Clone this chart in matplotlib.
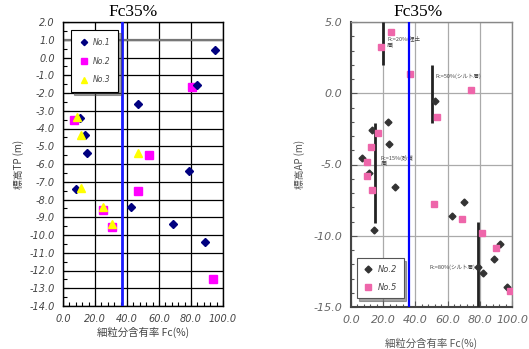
import matplotlib
matplotlib.use("Agg")
import matplotlib.pyplot as plt
from matplotlib.ticker import MultipleLocator, FormatStrFormatter

plt.rcParams['font.family'] = ['Noto Sans CJK JP', 'DejaVu Sans']

# ---------------- left chart data ----------------
left_no1_fc = [95, 84, 47, 10.4, 13.9, 14.9, 78.5, 8.1, 42.5, 68.9, 88.6]
left_no1_tp = [0.45, -1.55, -2.6, -3.43, -4.38, -5.36, -6.41, -7.41, -8.42, -9.4, -10.4]
left_no2_fc = [80.4, 6.6, 53.8, 47, 25.3, 30.7, 94]
left_no2_tp = [-1.66, -3.54, -5.5, -7.54, -8.57, -9.55, -12.48]
left_no3_fc = [8.9, 11, 47, 11.2, 24.7, 30.4]
left_no3_tp = [-3.37, -4.35, -5.36, -7.37, -8.4, -9.4]
left_series_labels = ['No.1', 'No.2', 'No.3']
left_fc_line = 37

# ---------------- right chart data ----------------
right_no2_fc = [52.2, 22.8, 12.8, 23.6, 7, 11.4, 27.3, 14.1, 70.4, 63, 92.8, 88.8, 79.1, 82.2, 96.7]
right_no2_ap = [-0.54, -2.04, -2.58, -3.56, -4.57, -5.57, -6.6, -9.6, -7.6, -8.6, -10.6, -11.6, -12.2, -12.6, -13.6]
right_no5_fc = [24.8, 18.6, 36.4, 74.3, 53.6, 17, 12.4, 9.9, 9.7, 13, 51.6, 68.7, 81.6, 89.9, 98.8]
right_no5_ap = [4.28, 3.27, 1.35, 0.23, -1.65, -2.77, -3.75, -4.82, -5.78, -6.79, -7.8, -8.83, -9.83, -10.84, -13.85]
right_series_labels = ['No.2', 'No.5']
right_fc_line = 36
seg_fc = [20, 50, 15, 79]
seg_top = [5.0, 2.0, -2.1, -9.0]
seg_bot = [2.0, -2.1, -9.1, -15.0]
seg_text = ['Fc=20%(埋土\n層)', 'Fc=50%(シルト層)', 'Fc=15%(砂質\n層)', 'Fc=80%(シルト層)']
seg_text_x = [22.5, 52.5, 18.5, 49]
seg_text_y = [3.6, 1.2, -4.7, -12.2]

title_text = 'Fc35%'
x_label = '細粒分含有率 Fc(%)'
left_ylabel = '標高TP (m)'
right_ylabel = '標高AP (m)'

W, H = 529, 349
fig = plt.figure(figsize=(W / 100, H / 100), dpi=100)

def box(l, t, r, b):
    return [l / W, 1 - b / H, (r - l) / W, (b - t) / H]

def italic_ticks(a, color):
    for lab in a.get_xticklabels() + a.get_yticklabels():
        lab.set_fontfamily('DejaVu Sans')
        lab.set_fontstyle('oblique')
        lab.set_color(color)

# ================= LEFT =================
ax = fig.add_axes(box(63, 22, 223, 306))
ax.set_xlim(0, 100)
ax.set_ylim(-14, 2)
ax.xaxis.set_major_locator(MultipleLocator(20))
ax.xaxis.set_minor_locator(MultipleLocator(4))
ax.yaxis.set_major_locator(MultipleLocator(1))
ax.yaxis.set_minor_locator(MultipleLocator(0.5))
ax.xaxis.set_major_formatter(FormatStrFormatter('%.1f'))
ax.yaxis.set_major_formatter(FormatStrFormatter('%.1f'))
ax.tick_params(which='both', direction='in', color='black', width=0.8)
ax.tick_params(which='major', length=4, labelsize=7, pad=6)
ax.tick_params(which='minor', length=3)
ax.grid(True, which='major', color='black', linewidth=0.9)
for s in ax.spines.values():
    s.set_color('black')
    s.set_linewidth(1.0)
ax.axhline(1.0, color='#777777', linewidth=1.6, zorder=2)
ax.axvline(left_fc_line, color='#1a1aff', linewidth=2.0, zorder=3)

ax.plot(left_no1_fc, left_no1_tp, linestyle='none', marker='D', markersize=4,
        color='#000080', label=left_series_labels[0], zorder=5)
ax.plot(left_no2_fc, left_no2_tp, linestyle='none', marker='s', markersize=6,
        color='#ff00ff', label=left_series_labels[1], zorder=4)
ax.plot(left_no3_fc, left_no3_tp, linestyle='none', marker='^', markersize=6,
        color='#ffff00', label=left_series_labels[2], zorder=6)
leg = ax.legend(loc='upper left', bbox_to_anchor=(0.05, 0.972), frameon=True,
                fancybox=False, shadow=True, edgecolor='black', markerscale=0.8,
                labelspacing=1.3, handlelength=1.4, handletextpad=0.5,
                borderpad=1.0, borderaxespad=0,
                prop={'family': 'DejaVu Sans', 'style': 'oblique', 'size': 5.5})
leg.get_frame().set_linewidth(0.8)
for t in leg.get_texts():
    t.set_color('#444444')
leg.set_zorder(10)
italic_ticks(ax, '#444444')
ax.set_ylabel(left_ylabel, fontsize=7, color='#444444', labelpad=4)
ax.set_xlabel(x_label, fontsize=7.5, color='#444444', labelpad=2)

fig.text(133 / W, 1 - 12 / H, title_text, ha='center', va='center',
         fontsize=12.5, family='Liberation Serif')

# ================= RIGHT =================
ax2 = fig.add_axes(box(351, 22, 512, 307))
ax2.set_xlim(0, 100)
ax2.set_ylim(-15, 5)
ax2.xaxis.set_major_locator(MultipleLocator(20))
ax2.xaxis.set_minor_locator(MultipleLocator(4))
ax2.yaxis.set_major_locator(MultipleLocator(5))
ax2.yaxis.set_minor_locator(MultipleLocator(1))
ax2.xaxis.set_major_formatter(FormatStrFormatter('%.1f'))
ax2.yaxis.set_major_formatter(FormatStrFormatter('%.1f'))
ax2.tick_params(which='both', direction='in', color='#555555', width=0.8)
ax2.tick_params(which='major', length=4, labelsize=8, pad=6)
ax2.tick_params(which='minor', length=2.5)
ax2.grid(True, which='major', color='#aaaaaa', linewidth=0.9)
for s in ax2.spines.values():
    s.set_color('#888888')
    s.set_linewidth(1.0)
ax2.spines['left'].set_color('#444444')
ax2.spines['bottom'].set_color('#444444')
ax2.spines['left'].set_linewidth(1.5)
ax2.spines['bottom'].set_linewidth(1.5)

ax2.vlines(seg_fc, seg_bot, seg_top, color='#222222', linewidth=2.0, zorder=3)
for tx, ty, tt in zip(seg_text_x, seg_text_y, seg_text):
    ax2.text(tx, ty, tt, fontsize=4, color='#444444',
             ha='left', va='center', linespacing=1.0, zorder=4)
ax2.axvline(right_fc_line, color='#0000ff', linewidth=1.6, zorder=6)

ax2.plot(right_no2_fc, right_no2_ap, linestyle='none', marker='D', markersize=3.5,
         color='#333333', label=right_series_labels[0], zorder=5)
ax2.plot(right_no5_fc, right_no5_ap, linestyle='none', marker='s', markersize=5,
         color='#ee66aa', label=right_series_labels[1], zorder=5)
leg2 = ax2.legend(loc='lower left', bbox_to_anchor=(0.035, 0.03), frameon=True,
                  fancybox=False, shadow=True, edgecolor='#555555',
                  labelspacing=1.1, handlelength=1.2, handletextpad=0.5,
                  borderpad=0.8, borderaxespad=0,
                  prop={'family': 'DejaVu Sans', 'style': 'oblique', 'size': 6})
leg2.get_frame().set_linewidth(0.8)
for t in leg2.get_texts():
    t.set_color('#444444')
italic_ticks(ax2, '#666666')
ax2.set_ylabel(right_ylabel, fontsize=7, color='#555555', labelpad=6)
ax2.set_xlabel(x_label, fontsize=7.5, color='#555555', labelpad=9)

fig.text(418 / W, 1 - 12 / H, title_text, ha='center', va='center',
         fontsize=12.5, family='Liberation Serif')

fig.savefig('out.png', dpi=100)
